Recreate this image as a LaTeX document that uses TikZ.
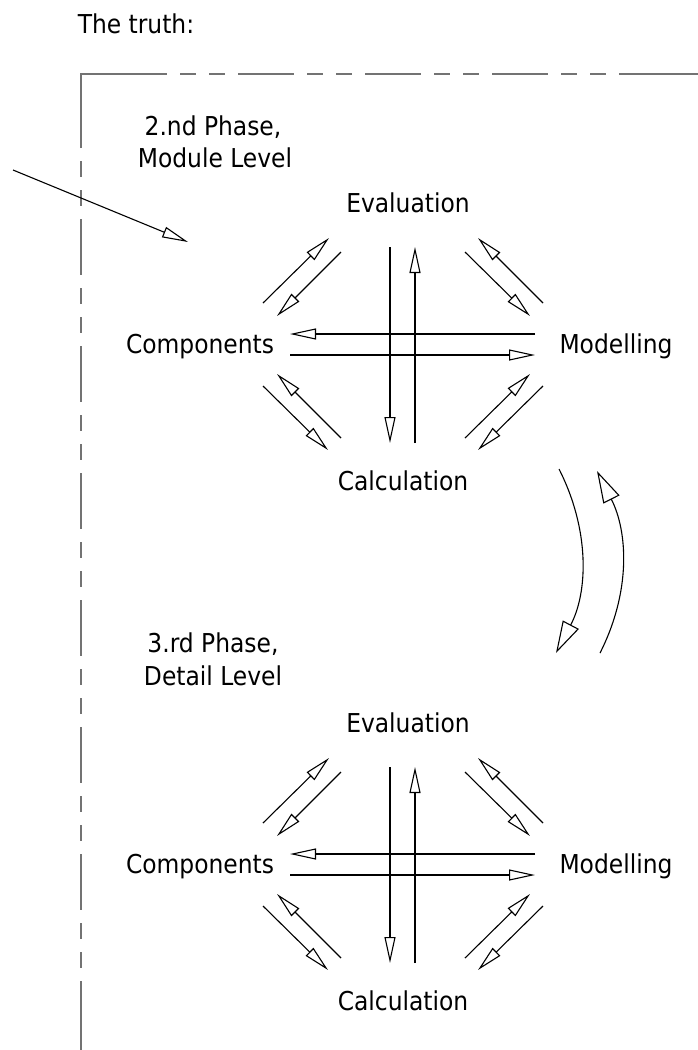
\documentclass[tikz,border=0pt]{standalone}
\usepackage{fontspec}
\setmainfont{DejaVu Sans Condensed}
\usetikzlibrary{arrows.meta}
\begin{document}
\begin{tikzpicture}[x=1pt,y=-1pt,
  lbl/.style={font=\fontsize{26}{31}\selectfont, inner sep=0pt, anchor=base},
  conn/.style={line width=1.1pt, -{Triangle[open,length=26pt,width=11pt]}},
  bigconn/.style={line width=1.1pt, -{Triangle[open,length=32pt,width=18pt]}},
  frame/.style={line width=1.2pt, black!55},
  cad/.style={dash pattern=on 56pt off 13pt on 16pt off 13pt on 16pt off 13pt, dash phase=56pt}
  ]
\useasboundingbox (0,0) rectangle (698,1050);
\node[lbl] (title) at (136,33) {The truth:};
% frame
\draw[frame] (81,148) -- (81,74) -- (167,74);
\draw[frame,cad] (167,74) -- (619,74);
\draw[frame] (619,74) -- (698,74);
\draw[frame,cad] (81,148) -- (81,981);
\draw[frame] (81,981) -- (81,1050);
% incoming arrow
\coordinate (inS) at (13,170);
\coordinate (inE) at (188,242);
\draw[conn] (inS) -- (inE);
% phase labels
\node[lbl] (ph2a) at (213,135) {2.nd Phase,};
\node[lbl] (ph2b) at (215,167) {Module Level};
\node[lbl] (ph3a) at (213,652) {3.rd Phase,};
\node[lbl] (ph3b) at (213,685) {Detail Level};
% groups
\foreach \g/\d in {A/0,B/520}{
 \begin{scope}[shift={(0,\d)}]
  \node[lbl] (\g-eval) at (408,212) {Evaluation};
  \node[lbl] (\g-comp) at (200,353) {Components};
  \node[lbl] (\g-mod) at (616,353) {Modelling};
  \node[lbl] (\g-calc) at (403,490) {Calculation};
  \foreach \n/\a/\b in {v1/{390,247}/{390,443}, v2/{415,443}/{415,247},
     h1/{535,334}/{290,334}, h2/{290,355}/{535,355},
     ulo/{263,303}/{329,238}, uli/{341,252}/{277,316},
     uro/{543,303}/{478,238}, uri/{465,252}/{530,316},
     lli/{341,438}/{277,374}, llo/{263,386}/{328,450},
     lri/{465,438}/{530,374}, lro/{543,386}/{478,450}}{
    \coordinate (\g-\n-s) at (\a);
    \coordinate (\g-\n-e) at (\b);
    \draw[conn] (\g-\n-s) -- (\g-\n-e);
  }
 \end{scope}
}
% curved arrows between phases
\coordinate (c1s) at (559,469);
\coordinate (c1e) at (556,653);
\draw[bigconn] (c1s) .. controls (590,530) and (588,592) .. (c1e);
\coordinate (c2s) at (600,653);
\coordinate (c2e) at (597,471);
\draw[bigconn] (c2s) .. controls (631,592) and (628,532) .. (c2e);
\end{tikzpicture}
\end{document}
